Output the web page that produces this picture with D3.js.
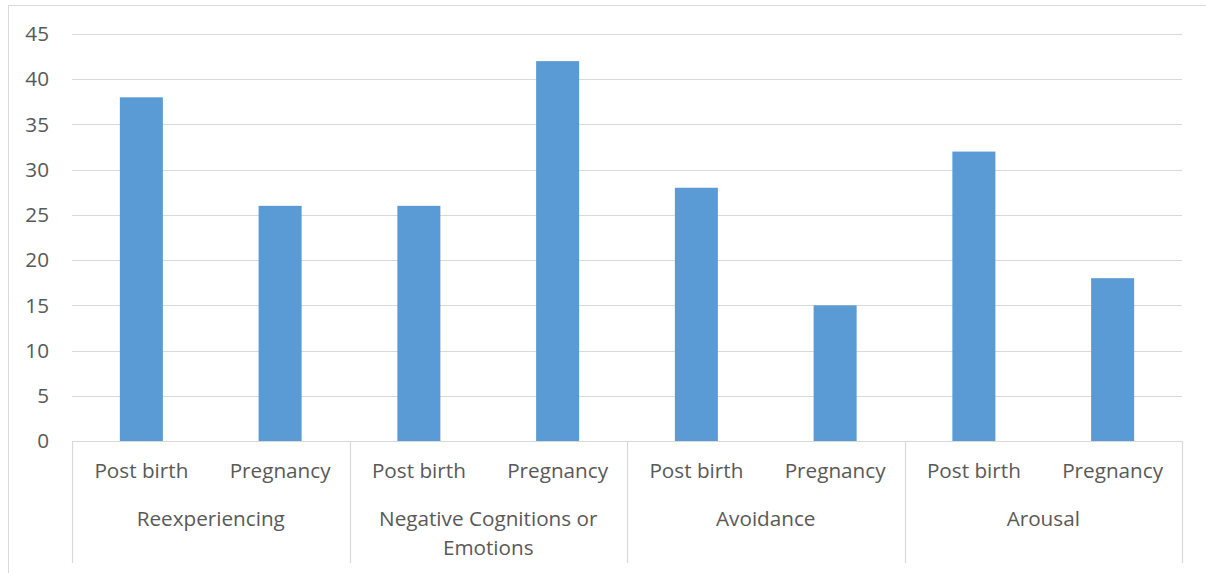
<!DOCTYPE html>
<html>
<head>
<meta charset="utf-8">
<script src="https://cdn.jsdelivr.net/npm/d3@7"></script>
<style>
  body { margin: 0; background: #fff; }
  text { font-family: "Open Sans", "Noto Sans", sans-serif; fill: #595959; }
</style>
</head>
<body>
<div id="container"></div>
<script>
/* DATA */
const groups = ["Reexperiencing", "Negative Cognitions or Emotions", "Avoidance", "Arousal"];
const groupLines = [["Reexperiencing"], ["Negative Cognitions or", "Emotions"], ["Avoidance"], ["Arousal"]];
const subcats = ["Post birth", "Pregnancy"];
const values = [38, 26, 26, 42, 28, 15, 32, 18];
const yTicks = [0, 5, 10, 15, 20, 25, 30, 35, 40, 45];

/* CONSTANTS */
const width = 1206, height = 573,
  margin = {top: 34, left: 72, bottom: 132, right: 24};
const fontSize = 20.7;

const rows = [];
groups.forEach((g, gi) => subcats.forEach((s, si) => rows.push({group: g, gi, sub: s, key: gi + "-" + si, value: values[gi * subcats.length + si]})));

const svg = d3.select("#container").append("svg")
  .attr("width", width).attr("height", height);

// outer chart border
svg.append("rect")
  .attr("x", 8.5).attr("y", 5.5)
  .attr("width", width).attr("height", height)
  .attr("fill", "none").attr("stroke", "#d9d9d9");

// SCALES
const xScale = d3.scaleBand()
  .domain(rows.map(d => d.key))
  .range([margin.left, width - margin.right])
  .paddingInner(0.69).paddingOuter(0.345);

const groupScale = d3.scaleBand()
  .domain(groups)
  .range([margin.left, width - margin.right]);

const yScale = d3.scaleLinear()
  .domain([0, 45])
  .range([height - margin.bottom, margin.top]);

const y0 = yScale(0);

// GRID
svg.append("g").selectAll("line")
  .data(yTicks.filter(t => t > 0))
  .join("line")
  .attr("x1", margin.left).attr("x2", width - margin.right)
  .attr("y1", d => Math.round(yScale(d)) + 0.5).attr("y2", d => Math.round(yScale(d)) + 0.5)
  .attr("stroke", "#d9d9d9").attr("stroke-width", 1.2);

// Y LABELS
svg.append("g").selectAll("text")
  .data(yTicks)
  .join("text")
  .attr("x", 49).attr("y", d => yScale(d))
  .attr("dy", "0.35em")
  .attr("text-anchor", "end")
  .attr("font-size", fontSize)
  .text(d => d);

// BARS
svg.append("g").selectAll("rect")
  .data(rows)
  .join("rect")
  .attr("x", d => xScale(d.key))
  .attr("width", xScale.bandwidth())
  .attr("y", d => yScale(d.value))
  .attr("height", d => y0 - yScale(d.value))
  .attr("fill", "#5b9bd5");

// CATEGORY AXIS
const axisBottom = Math.round(y0) + 122;
svg.append("line")
  .attr("x1", margin.left).attr("x2", width - margin.right)
  .attr("y1", Math.round(y0) + 0.5).attr("y2", Math.round(y0) + 0.5)
  .attr("stroke", "#d9d9d9").attr("stroke-width", 1.2);

const seps = groups.map(g => groupScale(g)).concat([width - margin.right]);
svg.append("g").selectAll("line")
  .data(seps)
  .join("line")
  .attr("x1", d => Math.round(d) + 0.5).attr("x2", d => Math.round(d) + 0.5)
  .attr("y1", y0).attr("y2", axisBottom)
  .attr("stroke", "#d9d9d9").attr("stroke-width", 1.2);

svg.append("g").selectAll("text")
  .data(rows)
  .join("text")
  .attr("x", d => xScale(d.key) + xScale.bandwidth() / 2)
  .attr("y", y0 + 30)
  .attr("dy", "0.35em")
  .attr("text-anchor", "middle")
  .attr("font-size", fontSize)
  .text(d => d.sub);

const gLabels = svg.append("g").selectAll("text")
  .data(groups)
  .join("text")
  .attr("x", d => groupScale(d) + groupScale.bandwidth() / 2)
  .attr("y", y0 + 78)
  .attr("text-anchor", "middle")
  .attr("font-size", fontSize);

gLabels.selectAll("tspan")
  .data((d, i) => groupLines[i])
  .join("tspan")
  .attr("x", function() { return d3.select(this.parentNode).attr("x"); })
  .attr("dy", (d, i) => i === 0 ? "0.35em" : "1.4em")
  .text(d => d);
</script>
</body>
</html>
